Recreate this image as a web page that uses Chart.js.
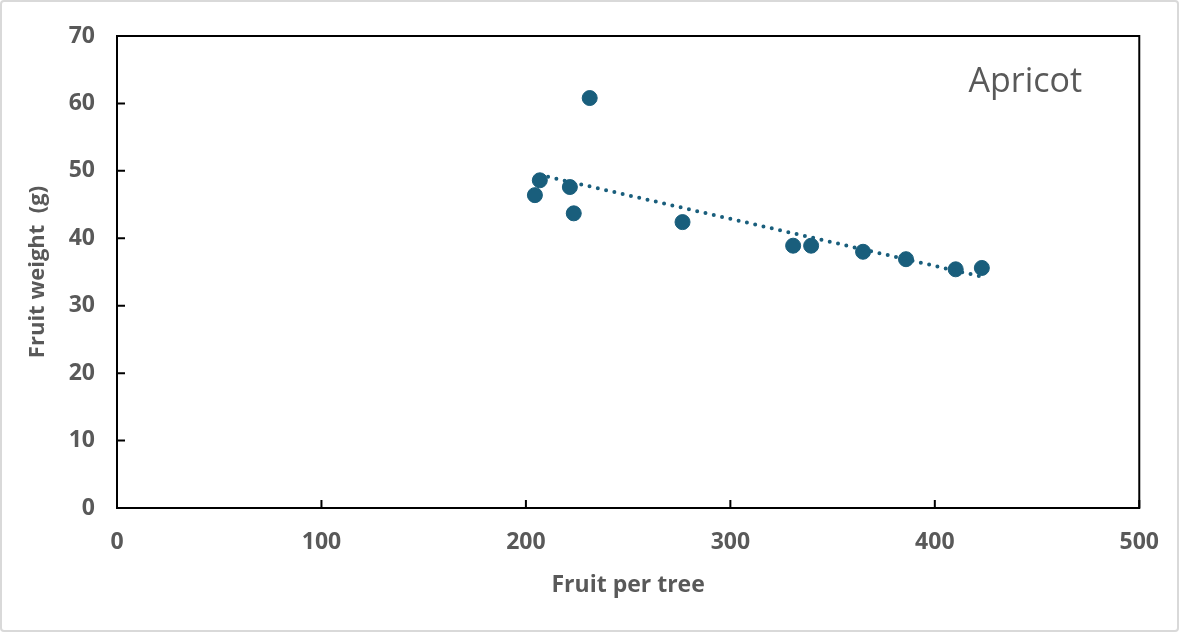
<!DOCTYPE html>
<html><head><meta charset="utf-8">
<script src="https://cdn.jsdelivr.net/npm/chart.js@4.4.0/dist/chart.umd.min.js"></script>
<style>html,body{margin:0;padding:0;background:#fff;overflow:hidden}#wrap{width:1180px;height:633px;position:relative}</style>
</head><body><div id="wrap"><canvas id="c" width="1180" height="633"></canvas></div>
<script>
const fruitPerTree = [204.4, 206.8, 221.5, 223.4, 231.2, 276.6, 330.7, 339.5, 364.9, 385.9, 410.2, 423.0];
const fruitWeight  = [46.4, 48.6, 47.6, 43.7, 60.8, 42.4, 38.9, 38.9, 38.0, 36.9, 35.4, 35.6];
const trendX = [206.8, 423.0];
const trendY = [49.4, 34.3];
const xTicks = [0, 100, 200, 300, 400, 500];
const yTicks = [0, 10, 20, 30, 40, 50, 60, 70];
const chartLabel = 'Apricot';
const xTitle = 'Fruit per tree';
const yTitle = 'Fruit weight  (g)';

const GRAY = '#595959';
const BLUE = '#195e7c';
const FONT = "'Open Sans', 'Liberation Sans', sans-serif";

const frame = {
  id: 'frame',
  beforeDraw(chart) {
    const ctx = chart.ctx;
    ctx.save();
    ctx.fillStyle = '#fff';
    ctx.fillRect(0, 0, chart.width, chart.height);
    ctx.strokeStyle = '#d9d9d9';
    ctx.lineWidth = 2;
    ctx.beginPath();
    ctx.roundRect(1, 1, chart.width - 3, chart.height - 3, 3);
    ctx.stroke();
    ctx.restore();
  },
  beforeDatasetsDraw(chart) {
    const {ctx, chartArea: a, scales} = chart;
    ctx.save();
    ctx.strokeStyle = '#000';
    ctx.lineWidth = 2;
    ctx.strokeRect(a.left, a.top, a.right - a.left, a.bottom - a.top);
    ctx.beginPath();
    xTicks.forEach(v => {
      const px = scales.x.getPixelForValue(v);
      ctx.moveTo(px, a.bottom); ctx.lineTo(px, a.bottom - 8);
    });
    yTicks.forEach(v => {
      const py = scales.y.getPixelForValue(v);
      ctx.moveTo(a.left, py); ctx.lineTo(a.left + 8, py);
    });
    ctx.stroke();
    ctx.fillStyle = GRAY;
    ctx.font = "34px " + FONT;
    ctx.textAlign = 'center';
    ctx.textBaseline = 'middle';
    ctx.fillText(chartLabel, a.right - 114, a.top + 46);
    ctx.restore();
  }
};

new Chart(document.getElementById('c'), {
  type: 'scatter',
  data: {
    datasets: [
      {
        type: 'line',
        data: trendX.map((x, i) => ({x, y: trendY[i]})),
        borderColor: BLUE,
        borderWidth: 4,
        borderDash: [0, 8.5],
        borderCapStyle: 'round',
        pointRadius: 0,
        fill: false,
        order: 0
      },
      {
        data: fruitPerTree.map((x, i) => ({x, y: fruitWeight[i]})),
        backgroundColor: BLUE,
        borderColor: BLUE,
        borderWidth: 1,
        pointRadius: 7.5,
        order: 1
      }
    ]
  },
  options: {
    responsive: false,
    animation: false,
    events: [],
    layout: { padding: { left: 0, top: 36, right: 38, bottom: 0 } },
    plugins: { legend: { display: false }, tooltip: { enabled: false } },
    scales: {
      x: {
        type: 'linear', min: 0, max: 500,
        afterBuildTicks(s) { s.ticks = xTicks.map(v => ({value: v})); },
        afterFit(s) { s.height = 125; },
        grid: { display: false, drawTicks: false },
        border: { display: false },
        ticks: { color: GRAY, padding: 21, font: { family: FONT, size: 23, weight: 'bold' } },
        title: { display: true, text: xTitle, color: GRAY, padding: { top: 0, bottom: 34 },
                 font: { family: FONT, size: 23, weight: 'bold' } }
      },
      y: {
        type: 'linear', min: 0, max: 70,
        afterBuildTicks(s) { s.ticks = yTicks.map(v => ({value: v})); },
        afterFit(s) { s.width = 117; },
        grid: { display: false, drawTicks: false },
        border: { display: false },
        ticks: { color: GRAY, padding: 22, font: { family: FONT, size: 23, weight: 'bold' } },
        title: { display: true, text: yTitle, color: GRAY, padding: { top: 25, bottom: 0 },
                 font: { family: FONT, size: 22, weight: 'bold' } }
      }
    }
  },
  plugins: [frame]
});
</script>
</body></html>
